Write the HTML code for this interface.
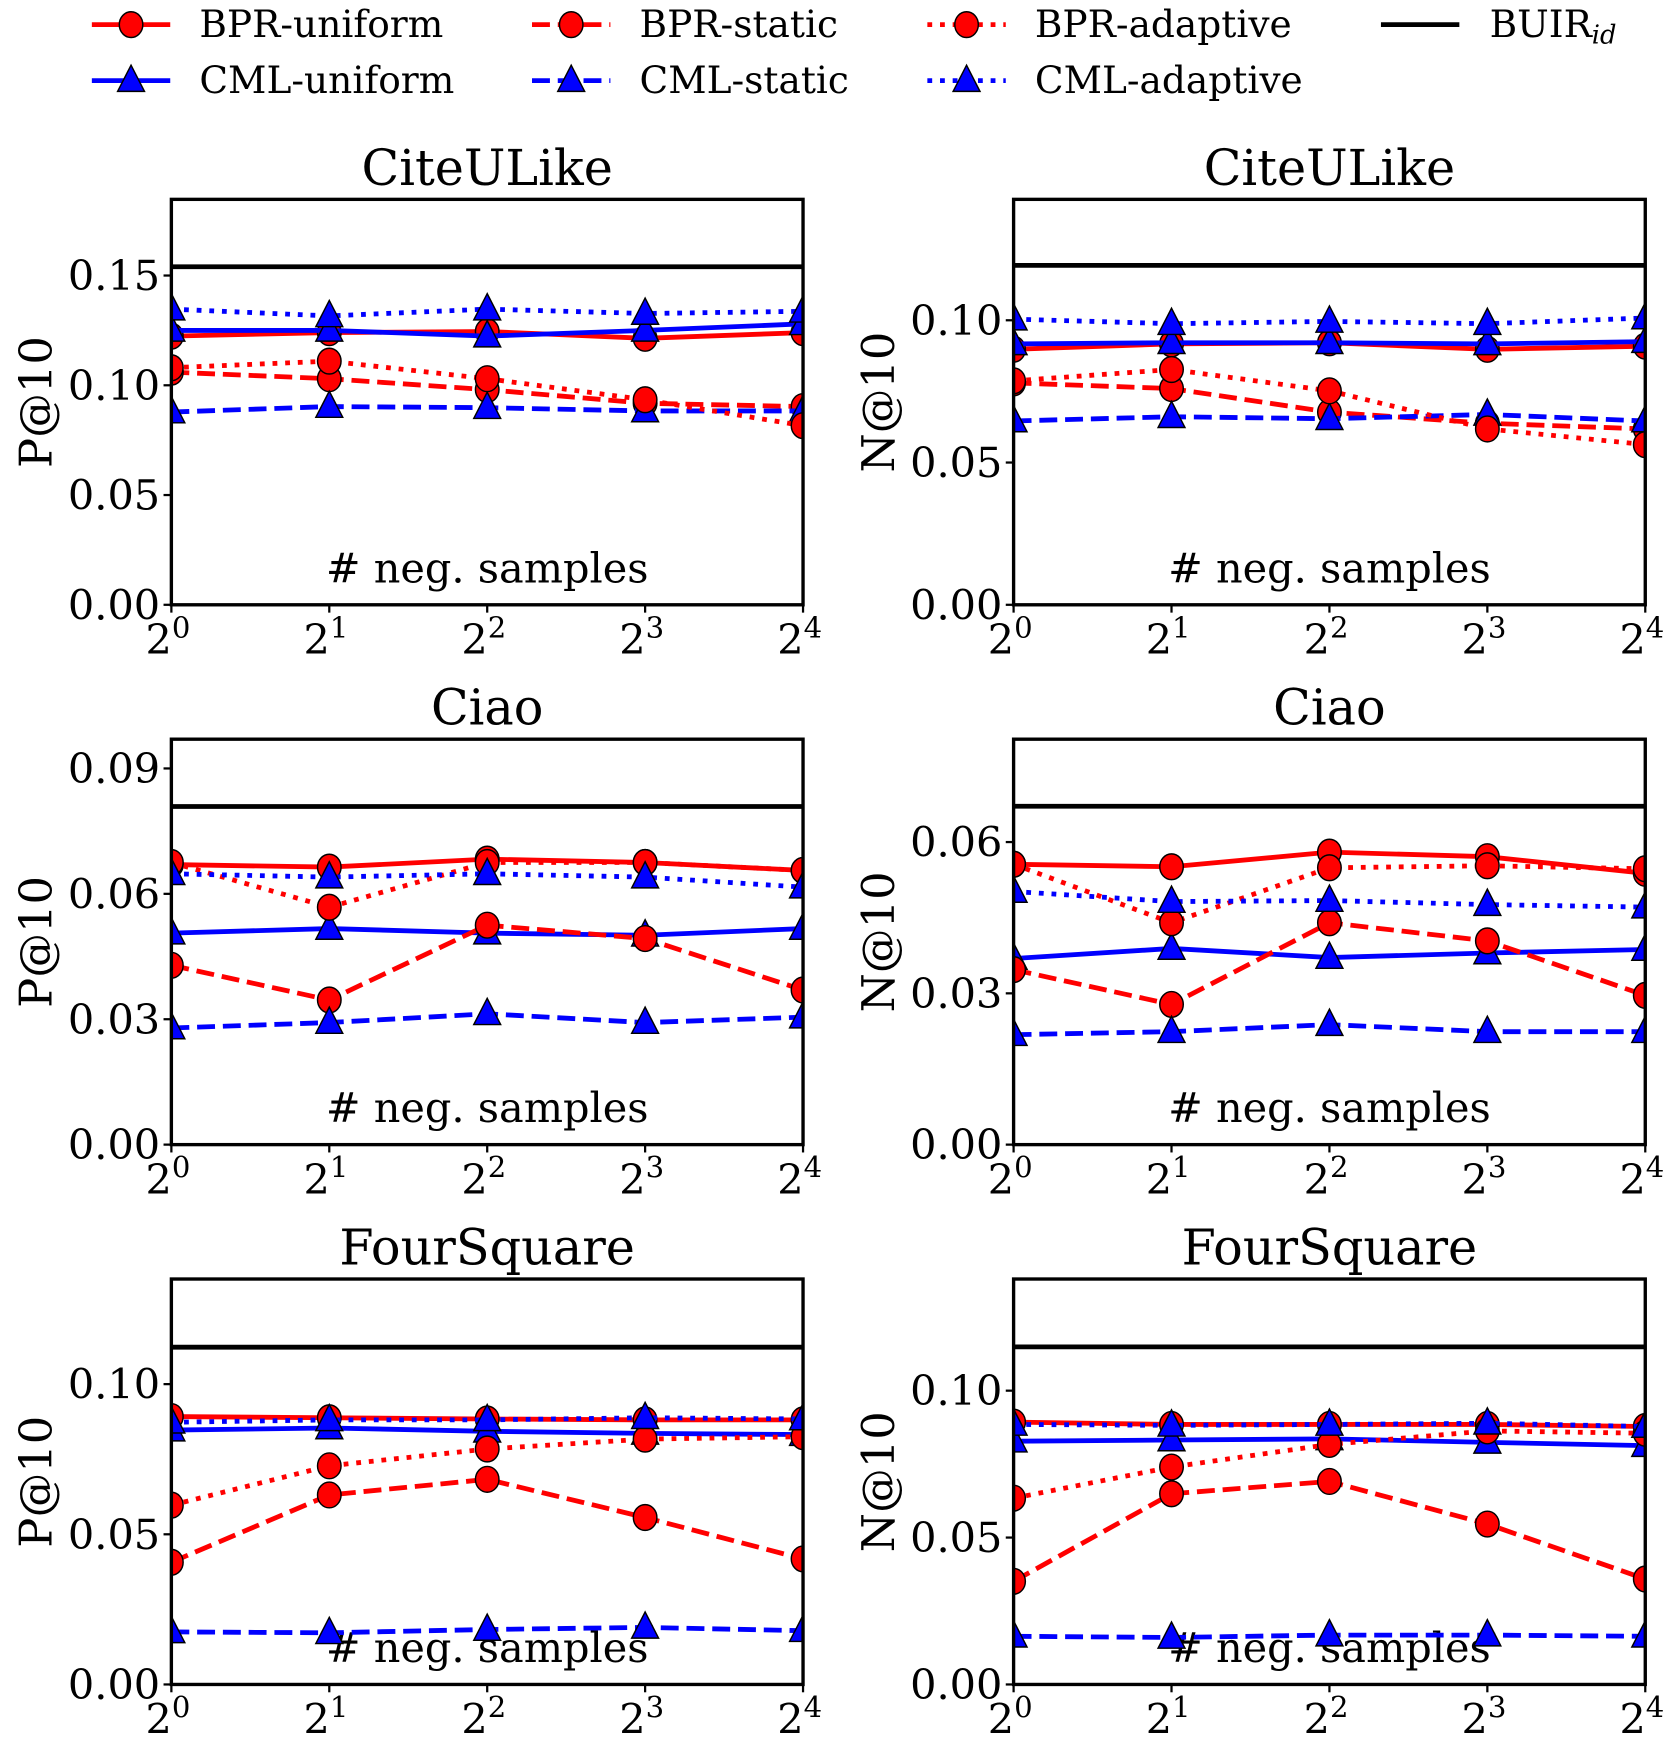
<!DOCTYPE html>
<html><head><meta charset="utf-8"><style>
html,body{margin:0;padding:0;background:#fff;}
svg{display:block;}
text{font-family:"DejaVu Serif","Liberation Serif",serif;fill:#000;}
</style></head>
<body>
<svg id="fig" width="1680" height="1753" viewBox="0 0 1500 1565.2" xmlns="http://www.w3.org/2000/svg">
<g id="legend"></g>
<g id="panels"></g>
</svg>
<script>
const xCats = [0, 1, 2, 3, 4];
const seriesNames = ["BPR-uniform","CML-uniform","BPR-static","CML-static","BPR-adaptive","CML-adaptive"];
const titles = ["CiteULike","CiteULike","Ciao","Ciao","FourSquare","FourSquare"];
const ylabels = ["P@10","N@10","P@10","N@10","P@10","N@10"];
const ymaxs = [0.1847,0.1425,0.097,0.0804,0.135,0.138];
const yticks = [[0,0.05,0.10,0.15],[0,0.05,0.10],[0,0.03,0.06,0.09],[0,0.03,0.06],[0,0.05,0.10],[0,0.05,0.10]];
const buir = [0.154,0.1193,0.0809,0.0671,0.1123,0.1149];
// values per panel, in order of seriesNames
const p1 = [[0.1224,0.124,0.1245,0.1214,0.124],[0.125,0.125,0.1224,0.125,0.128],[0.106,0.103,0.098,0.0918,0.0903],[0.0878,0.0903,0.0898,0.0883,0.0883],[0.108,0.111,0.103,0.0934,0.0816],[0.1347,0.1316,0.1347,0.1327,0.1337]];
const p2 = [[0.0898,0.0917,0.0921,0.0898,0.0909],[0.0917,0.0921,0.0921,0.0917,0.0925],[0.078,0.076,0.0677,0.0638,0.0618],[0.0646,0.0661,0.0654,0.0669,0.0646],[0.0787,0.0827,0.0752,0.0618,0.0563],[0.1004,0.0988,0.0996,0.0988,0.1008]];
const p3 = [[0.067,0.0664,0.0683,0.0675,0.0656],[0.0506,0.0517,0.0506,0.0501,0.0517],[0.0429,0.0346,0.0525,0.0493,0.037],[0.0279,0.0292,0.0313,0.0292,0.0305],[0.0675,0.0568,0.0675,0.0675,0.0656],[0.0648,0.064,0.0648,0.064,0.0616]];
const p4 = [[0.0556,0.0551,0.058,0.0571,0.0538],[0.0369,0.0389,0.0371,0.038,0.0387],[0.0347,0.0278,0.044,0.0404,0.0296],[0.0218,0.0224,0.0238,0.0224,0.0224],[0.0556,0.044,0.0549,0.0553,0.0547],[0.0502,0.0482,0.0484,0.0476,0.0471]];
const p5 = [[0.0892,0.0888,0.0884,0.0881,0.0881],[0.0847,0.0854,0.0843,0.0836,0.0832],[0.0407,0.0631,0.0683,0.0556,0.0418],[0.0175,0.0172,0.0183,0.019,0.0179],[0.0597,0.0728,0.0784,0.0817,0.0825],[0.0873,0.0881,0.0881,0.0888,0.0884]];
const p6 = [[0.0893,0.0885,0.0885,0.0885,0.0878],[0.0828,0.0832,0.0836,0.0824,0.0813],[0.0351,0.0649,0.0691,0.0546,0.0359],[0.0164,0.016,0.0168,0.0168,0.0164],[0.0634,0.074,0.0817,0.0863,0.0855],[0.0885,0.0882,0.0885,0.0889,0.0878]];
const panelData = [p1,p2,p3,p4,p5,p6];

const NS="http://www.w3.org/2000/svg";
function mk(tag, attrs, parent){const e=document.createElementNS(NS,tag);for(const k in attrs)e.setAttribute(k,attrs[k]);if(parent)parent.appendChild(e);return e;}
const colors={BPR:"#ff0000",CML:"#0000ff"};
function styleOf(name){
  const c=name.startsWith("BPR")?colors.BPR:colors.CML;
  let dash="none";
  if(name.endsWith("static"))dash="16,7";
  if(name.endsWith("adaptive"))dash="4.3,7";
  return {c,dash,marker:name.startsWith("BPR")?"o":"^"};
}
function marker(g,type,x,y,c){
  if(type==="o"){return mk("ellipse",{cx:x,cy:y,rx:10.5,ry:11.5,fill:c,stroke:"#000","stroke-width":1.3},g);}
  const s=12;
  return mk("polygon",{points:`${x},${y-s*1.15} ${x-s},${y+s*0.8} ${x+s},${y+s*0.8}`,fill:c,stroke:"#000","stroke-width":1.3},g);
}
// legend
const lg=document.getElementById("legend");
const legendCols=[82,475,828,1233];
const legendRows=[22,72];
seriesNames.forEach((n,i)=>{
  const col=Math.floor(i/2), row=i%2;
  const st=styleOf(n);
  const x0=legendCols[col], y=legendRows[row];
  const item=mk("g",{},lg);
  
  
  mk("line",{x1:x0,y1:y,x2:x0+70,y2:y,stroke:st.c,"stroke-width":4.3,"stroke-dasharray":st.dash},item);
  marker(item,st.marker,x0+35,y,st.c);
  const t=mk("text",{x:x0+96,y:y+11,"font-size":33.5},item);t.textContent=n;
});
{
  const item=mk("g",{},lg);
  
  
  mk("line",{x1:1233,y1:22,x2:1303,y2:22,stroke:"#000","stroke-width":4.3},item);
  const t=mk("text",{x:1330,y:33,"font-size":33.5},item);t.textContent="BUIR";
  const s=mk("tspan",{"font-size":23,"font-style":"italic",dy:6},t);s.textContent="id";
}
// panels
const pg=document.getElementById("panels");
const lefts=[153,905], tops=[178,660,1142], W=564, H=362;
panelData.forEach((data,pi)=>{
  const L=lefts[pi%2], T=tops[Math.floor(pi/2)], B=T+H, R=L+W;
  const g=mk("g",{},pg);
  
  
  const xs=i=>L+W*xCats[i]/4;
  const ys=v=>B-H*v/ymaxs[pi];
  const cid="clip"+pi;
  const cp=mk("clipPath",{id:cid},g);mk("rect",{x:L,y:T,width:W,height:H},cp);
  const t=mk("text",{x:L+W/2,y:T-13,"font-size":44,"text-anchor":"middle"},g);t.textContent=titles[pi];
  
  
  const yl=mk("text",{transform:`translate(${L-107},${T+H/2}) rotate(-90)`,"font-size":40,"text-anchor":"middle"},g);yl.textContent=ylabels[pi];
  
  
  yticks[pi].forEach(v=>{
    const y=ys(v);
    mk("line",{x1:L-7,y1:y,x2:L,y2:y,stroke:"#000","stroke-width":2},g);
    const tl=mk("text",{x:L-10,y:y+13,"font-size":37,"text-anchor":"end"},g);tl.textContent=v.toFixed(2);
    
    
  });
  xCats.forEach((c,i)=>{
    const x=xs(i);
    mk("line",{x1:x,y1:B,x2:x,y2:B+7,stroke:"#000","stroke-width":2},g);
    const tl=mk("text",{x:x-3,y:B+44,"font-size":37,"text-anchor":"middle"},g);tl.textContent="2";
    const sp=mk("tspan",{"font-size":26,dy:-15},tl);sp.textContent=String(c);
    
    
  });
  const xl=mk("text",{x:L+W/2,y:B-20,"font-size":37,"text-anchor":"middle"},g);xl.textContent="# neg. samples";
  
  
  const plot=mk("g",{"clip-path":`url(#${cid})`},g);
  data.forEach((vals,si)=>{
    const st=styleOf(seriesNames[si]);
    const sg=mk("g",{},plot);
    
    
    const pts=vals.map((v,i)=>`${xs(i)},${ys(v)}`).join(" ");
    mk("polyline",{points:pts,fill:"none",stroke:st.c,"stroke-width":4.3,"stroke-dasharray":st.dash},sg);
    vals.forEach((v,i)=>{const m=marker(sg,st.marker,xs(i),ys(v),st.c);
      
      });
  });
  const bl=mk("line",{x1:L,y1:ys(buir[pi]),x2:R,y2:ys(buir[pi]),stroke:"#000","stroke-width":4.3},plot);
  
  
  mk("rect",{x:L,y:T,width:W,height:H,fill:"none",stroke:"#000","stroke-width":3},g);
});
</script>
</body></html>
